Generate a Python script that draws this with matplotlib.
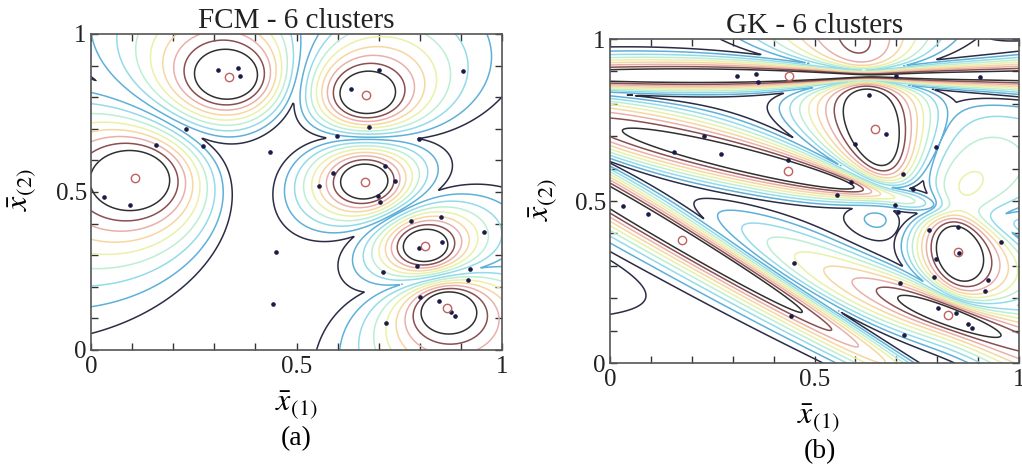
import numpy as np
import matplotlib.pyplot as plt

plt.rcParams['font.family'] = 'Liberation Serif'
plt.rcParams['mathtext.fontset'] = 'stix'

W, H = 1022, 466

# sample points (same data set in both panels)
pts_x = [0.310, 0.358, 0.362, 0.700, 0.633, 0.905, 0.676, 0.599, 0.798, 0.231,
         0.272, 0.157, 0.435, 0.031, 0.094, 0.590, 0.554, 0.716, 0.740, 0.698,
         0.704, 0.779, 0.852, 0.955, 0.797, 0.854, 0.792, 0.923, 0.710, 0.449,
         0.443, 0.846, 0.886, 0.801, 0.718, 0.918, 0.876]
pts_y = [0.887, 0.891, 0.866, 0.886, 0.826, 0.882, 0.707, 0.677, 0.668, 0.700,
         0.645, 0.650, 0.628, 0.485, 0.460, 0.559, 0.520, 0.583, 0.536, 0.488,
         0.467, 0.409, 0.420, 0.374, 0.322, 0.341, 0.265, 0.256, 0.246, 0.309,
         0.146, 0.154, 0.107, 0.169, 0.085, 0.222, 0.121]

# FCM cluster centres
fcm_cx = [0.335, 0.669, 0.108, 0.667, 0.813, 0.866]
fcm_cy = [0.865, 0.807, 0.544, 0.533, 0.328, 0.133]

# GK cluster centres, major axis angle (deg) and axis ratio
gk_cx = [0.438, 0.647, 0.436, 0.177, 0.850, 0.827]
gk_cy = [0.886, 0.721, 0.592, 0.380, 0.344, 0.147]
gk_ang = [0, 100, -17, -37, 98, -26]
gk_ratio = [40, 2.6, 10, 16, 1.9, 4]

levels = np.linspace(0.38, 0.88, 9)
# faded jet-like line colours, low -> high membership
lev_colors = ['#2b2d45', '#5fb0d8', '#93dbe8', '#bdeed4', '#eaf1a8',
              '#f6d7a2', '#e9b0aa', '#8a4f50', '#303030']


def max_membership(gx, gy, cx, cy, ang=None, ratio=None, m=2.0):
    d2 = []
    for i in range(len(cx)):
        dx = gx - cx[i]
        dy = gy - cy[i]
        if ang is None:
            d = dx**2 + dy**2
        else:
            t = np.deg2rad(ang[i])
            c, s = np.cos(t), np.sin(t)
            R = np.array([[c, -s], [s, c]])
            A = R @ np.diag([1.0/ratio[i], ratio[i]]) @ R.T
            d = A[0, 0]*dx*dx + 2*A[0, 1]*dx*dy + A[1, 1]*dy*dy
        d2.append(np.maximum(d, 1e-12))
    d2 = np.array(d2)
    p = 1.0/(m - 1.0)
    u = 1.0/(d2**p * np.sum(d2**(-p), axis=0))
    return u.max(axis=0)


g = np.linspace(0, 1, 400)
gx, gy = np.meshgrid(g, g)

fig = plt.figure(figsize=(W/100, H/100), dpi=100)
axA = fig.add_axes([91/W, 1-350/H, (502-91)/W, (350-34)/H])
axB = fig.add_axes([610/W, 1-363/H, (1019-610)/W, (363-39)/H])

UA = max_membership(gx, gy, fcm_cx, fcm_cy)
UB = max_membership(gx, gy, gk_cx, gk_cy, gk_ang, gk_ratio)

for ax, U, cx, cy, ttl in [(axA, UA, fcm_cx, fcm_cy, 'FCM - 6 clusters'),
                           (axB, UB, gk_cx, gk_cy, 'GK - 6 clusters')]:
    ax.contour(gx, gy, U, levels=levels, colors=lev_colors, linewidths=1.1)
    ax.plot(pts_x, pts_y, 'o', ms=2.3, color='#1c1c48', zorder=3)
    ax.plot(cx, cy, 'o', ms=6, mfc='none', mec='#c06060', mew=1.0, zorder=4)
    ax.set_xlim(0, 1)
    ax.set_ylim(0, 1)
    ax.set_xticks([0, 0.5, 1])
    ax.set_yticks([0, 0.5, 1])
    ax.set_xticklabels(['0', '0.5', '1'])
    ax.set_yticklabels(['0', '0.5', '1'])
    ax.set_xticks(np.arange(0, 1.01, 0.1), minor=True)
    ax.set_yticks(np.arange(0, 1.01, 0.1), minor=True)
    ax.tick_params(which='both', direction='in', top=True, right=True,
                   length=5, width=1, colors='#333333', labelsize=18,
                   labelcolor='#222222')
    ax.tick_params(axis='x', pad=4)
    ax.tick_params(axis='y', pad=3)
    for sp in ax.spines.values():
        sp.set_color('#555555')
        sp.set_linewidth(1.2)
    ax.set_title(ttl, fontsize=21, pad=1, color='#222222')

fig.text(296/W, 1-405/H, r'$\bar{x}_{(1)}$', fontsize=23, ha='center', va='center')
fig.text(818/W, 1-418/H, r'$\bar{x}_{(1)}$', fontsize=23, ha='center', va='center')
fig.text(22/W, 1-190/H, r'$\bar{x}_{(2)}$', fontsize=23, ha='center', va='center', rotation=90)
fig.text(543/W, 1-200/H, r'$\bar{x}_{(2)}$', fontsize=23, ha='center', va='center', rotation=90)
fig.text(296/W, 1-439/H, '(a)', fontsize=20, ha='center', va='center')
fig.text(820/W, 1-452/H, '(b)', fontsize=20, ha='center', va='center')

fig.savefig('out.png', dpi=100)
